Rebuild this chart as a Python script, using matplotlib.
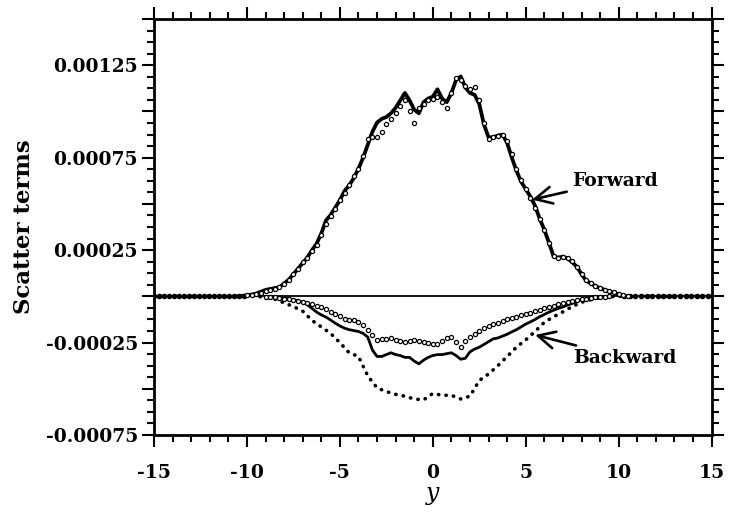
import numpy as np
import matplotlib
matplotlib.use("Agg")
import matplotlib.pyplot as plt
from matplotlib.ticker import MultipleLocator, FixedLocator

plt.rcParams['font.family'] = 'serif'
plt.rcParams['font.serif'] = ['DejaVu Serif']
plt.rcParams['font.weight'] = 'bold'

# values in units of 1e-4
# forward: solid line (x from -10.5 to 10.5, step 0.25)
fwd_line_x = np.arange(-10.5, 10.51, 0.25)
fwd_line = [0, 0.03, 0.05, 0.1, 0.15, 0.25, 0.35, 0.4, 0.45, 0.5,
            0.7, 0.9, 1.2, 1.5, 1.8, 2.1, 2.5, 2.85, 3.4, 4.1,
            4.4, 4.8, 5.2, 5.7, 6.0, 6.4, 6.9, 7.5, 8.2, 8.9,
            9.4, 9.6, 9.7, 9.9, 10.2, 10.6, 11.0, 10.6, 10.1, 9.9,
            10.5, 10.7, 10.8, 11.2, 10.7, 10.5, 11.0, 11.7, 11.9, 11.3,
            11.0, 10.9, 10.4, 9.3, 8.6, 8.6, 8.7, 8.75, 8.3, 7.5,
            6.8, 6.2, 5.8, 5.4, 4.9, 4.2, 3.6, 2.9, 2.15, 2.1,
            2.15, 2.05, 1.85, 1.6, 1.2, 0.85, 0.7, 0.55, 0.45, 0.35,
            0.25, 0.2, 0.1, 0.05, 0]

# forward: circles (x from -10 to 10.5, step 0.25)
fwd_pts_x = np.arange(-10.0, 10.51, 0.25)
fwd_pts = [0.05, 0.08, 0.12, 0.2, 0.3, 0.35, 0.42, 0.5, 0.65, 0.9,
           1.2, 1.5, 1.85, 2.1, 2.45, 2.8, 3.3, 3.9, 4.35, 4.75,
           5.2, 5.6, 6.0, 6.5, 6.9, 7.6, 8.5, 8.6, 8.6, 8.9,
           9.3, 9.6, 9.9, 10.3, 10.6, 10.0, 9.4, 10.2, 10.4, 10.6,
           10.7, 10.8, 10.5, 10.2, 11.0, 11.8, 11.7, 11.4, 11.2, 11.3,
           10.6, 9.4, 8.5, 8.6, 8.7, 8.75, 8.4, 7.7, 6.9, 6.3,
           5.8, 5.3, 4.8, 4.2, 3.6, 2.9, 2.2, 2.1, 2.15, 2.1,
           1.9, 1.6, 1.2, 0.9, 0.7, 0.55, 0.45, 0.35, 0.3, 0.25,
           0.15, 0.05, 0]

# backward: circles and solid line (x from -9 to 9.5, step 0.25)
bwd_x = np.arange(-9.0, 9.51, 0.25)
bwd_pts = [-0.02, -0.03, -0.05, -0.08, -0.12, -0.15, -0.2, -0.25, -0.32, -0.38,
           -0.44, -0.52, -0.6, -0.7, -0.84, -0.96, -1.08, -1.2, -1.28, -1.3,
           -1.4, -1.55, -1.8, -2.1, -2.35, -2.3, -2.3, -2.25, -2.35, -2.4,
           -2.45, -2.4, -2.35, -2.4, -2.45, -2.5, -2.6, -2.55, -2.4, -2.25,
           -2.2, -2.45, -2.72, -2.4, -2.2, -2.05, -1.85, -1.7, -1.6, -1.5,
           -1.42, -1.35, -1.25, -1.18, -1.1, -1.02, -0.95, -0.88, -0.8, -0.72,
           -0.65, -0.57, -0.5, -0.42, -0.35, -0.3, -0.25, -0.2, -0.16, -0.12,
           -0.08, -0.05, -0.03, -0.01, 0]
bwd_line = [-0.01, -0.02, -0.04, -0.06, -0.09, -0.13, -0.18, -0.24, -0.32, -0.45,
            -0.65, -0.85, -1.0, -1.12, -1.28, -1.45, -1.6, -1.72, -1.8, -1.85,
            -1.9, -2.0, -2.2, -2.9, -3.25, -3.25, -3.15, -3.05, -3.15, -3.2,
            -3.3, -3.3, -3.5, -3.65, -3.45, -3.3, -3.2, -3.15, -3.15, -3.1,
            -3.05, -3.2, -3.4, -3.35, -3.0, -2.85, -2.75, -2.6, -2.45, -2.3,
            -2.25, -2.15, -2.05, -1.92, -1.8, -1.65, -1.5, -1.38, -1.25, -1.1,
            -0.98, -0.85, -0.75, -0.65, -0.57, -0.47, -0.38, -0.27, -0.18, -0.12,
            -0.08, -0.05, -0.03, -0.01, 0]

# backward: dotted line (x from -15 to 15, step 0.5)
dot_x = np.arange(-15.0, 15.01, 0.5)
dot_y = [0, 0, 0, 0, 0, 0, 0, 0, 0, 0, 0, 0,
         -0.05, -0.15, -0.35, -0.55, -0.8, -1.3, -1.65, -2.0, -2.5, -3.05,
         -3.25, -4.3, -4.95, -5.15, -5.3, -5.4, -5.55, -5.6, -5.25, -5.35,
         -5.35, -5.55, -5.4, -4.55, -4.2, -3.75, -3.25, -2.75, -2.35, -1.9,
         -1.4, -1.1, -0.84, -0.55, -0.32, -0.18, -0.08, -0.02,
         0, 0, 0, 0, 0, 0, 0, 0, 0, 0, 0]

# flat tails (points sitting on zero)
tail_x = np.concatenate([np.arange(-15.0, -9.9, 0.27), np.arange(10.3, 15.01, 0.3)])
tail_y = np.zeros(len(tail_x))

s = 1e-4
fig = plt.figure(figsize=(7.29, 5.21), dpi=100)
ax = fig.add_axes([0.2112, 0.165, 0.765, 0.7985])

ax.axhline(0, color='black', lw=1.3, zorder=1)
ax.plot(dot_x, np.array(dot_y) * s, color='black', lw=2.6,
        ls=(0, (0.1, 2.0)), dash_capstyle='round', zorder=2)
ax.plot(tail_x, tail_y, 'o', color='black', ms=3.0, zorder=2)
ax.plot(bwd_x, np.array(bwd_line) * s, color='black', lw=2.0, zorder=3)
ax.plot(bwd_x, np.array(bwd_pts) * s, 'o', mfc='white', mec='black',
        ms=3.0, mew=0.9, zorder=4)
ax.plot(fwd_line_x, np.array(fwd_line) * s, color='black', lw=2.7, zorder=3)
ax.plot(fwd_pts_x, np.array(fwd_pts) * s, 'o', mfc='white', mec='black',
        ms=3.0, mew=0.9, zorder=4)

ax.set_xlim(-15, 15)
ax.set_ylim(-0.00075, 0.0015)

xt = [-15, -10, -5, 0, 5, 10, 15]
ax.set_xticks(xt)
ax.set_xticklabels([str(v) for v in xt])
ax.xaxis.set_minor_locator(MultipleLocator(1))

yt = np.arange(-0.00075, 0.00151, 0.00025)
ax.yaxis.set_major_locator(FixedLocator(yt))
ax.yaxis.set_minor_locator(MultipleLocator(0.0000625))
ylabels = ['-0.00075', '', '-0.00025', '', '0.00025', '', '0.00075', '', '0.00125', '']
ax.set_yticklabels(ylabels)

for sp in ax.spines.values():
    sp.set_linewidth(2.0)
ax.tick_params(which='both', direction='out', top=True, right=True, width=1.5)
ax.tick_params(which='major', length=8.5, labelsize=13.5)
ax.tick_params(which='minor', length=5)
ax.tick_params(axis='x', which='major', pad=12)
ax.tick_params(axis='y', which='major', pad=3)

ax.set_ylabel('Scatter terms', fontsize=16.5, fontweight='bold', labelpad=8)
ax.set_xlabel('y', fontsize=17, fontstyle='italic', fontweight='normal', labelpad=0)

arrow = dict(arrowstyle='->,head_length=0.9,head_width=0.45',
             lw=1.9, color='black', shrinkA=2, shrinkB=0)
ax.annotate('Forward', xy=(5.34, 0.000523), xytext=(7.5, 0.000626),
            fontsize=13.5, fontweight='bold', va='center', ha='left',
            arrowprops=arrow)
ax.annotate('Backward', xy=(5.5, -0.000209), xytext=(7.55, -0.000333),
            fontsize=13.5, fontweight='bold', va='center', ha='left',
            arrowprops=arrow)

fig.savefig('out.png', dpi=100)
